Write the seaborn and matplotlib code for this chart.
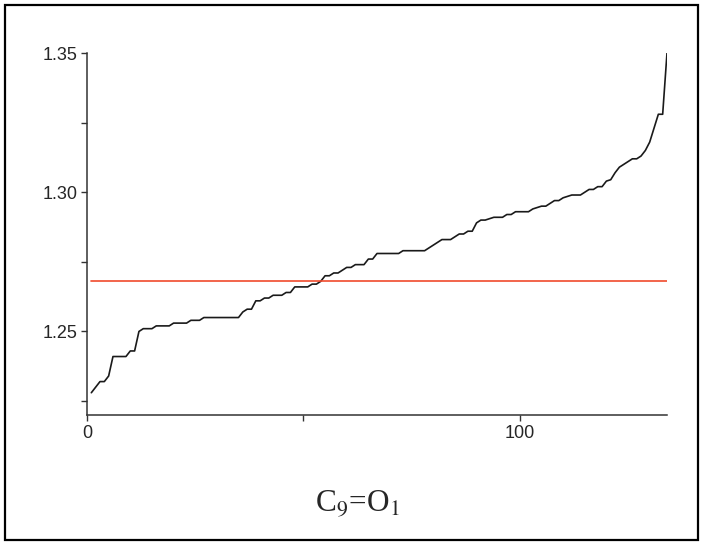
import numpy as np
import pandas as pd
import matplotlib
matplotlib.use('Agg')
import matplotlib.pyplot as plt
import seaborn as sns
from matplotlib.patches import Rectangle
from matplotlib.ticker import MultipleLocator

# sorted values, index 1..134
values = [1.228, 1.230, 1.232, 1.232, 1.234, 1.241, 1.241, 1.241, 1.241, 1.243,
          1.243, 1.250, 1.251, 1.251, 1.251, 1.252, 1.252, 1.252, 1.252, 1.253,
          1.253, 1.253, 1.253, 1.254, 1.254, 1.254, 1.255, 1.255, 1.255, 1.255,
          1.255, 1.255, 1.255, 1.255, 1.255, 1.257, 1.258, 1.258, 1.261, 1.261,
          1.262, 1.262, 1.263, 1.263, 1.263, 1.264, 1.264, 1.266, 1.266, 1.266,
          1.266, 1.267, 1.267, 1.268, 1.270, 1.270, 1.271, 1.271, 1.272, 1.273,
          1.273, 1.274, 1.274, 1.274, 1.276, 1.276, 1.278, 1.278, 1.278, 1.278,
          1.278, 1.278, 1.279, 1.279, 1.279, 1.279, 1.279, 1.279, 1.280, 1.281,
          1.282, 1.283, 1.283, 1.283, 1.284, 1.285, 1.285, 1.286, 1.286, 1.289,
          1.290, 1.290, 1.2905, 1.291, 1.291, 1.291, 1.292, 1.292, 1.293, 1.293,
          1.293, 1.293, 1.294, 1.2945, 1.295, 1.295, 1.296, 1.297, 1.297, 1.298,
          1.2985, 1.299, 1.299, 1.299, 1.300, 1.301, 1.301, 1.302, 1.302, 1.304,
          1.3045, 1.307, 1.309, 1.310, 1.311, 1.312, 1.312, 1.313, 1.315, 1.318,
          1.323, 1.328, 1.328, 1.350]
index = list(range(1, len(values) + 1))
mean_value = 1.268
title = 'C$_9$=O$_1$'

df = pd.DataFrame({'i': index, 'v': values, 'm': [mean_value] * len(values)})

sns.set_style('ticks')
plt.rcParams['font.family'] = ['Liberation Sans', 'DejaVu Sans']
plt.rcParams['mathtext.fontset'] = 'stix'

fig = plt.figure(figsize=(7.04, 5.42), dpi=100)
ax = fig.add_axes([87 / 704, 1 - 415 / 542, (667 - 87) / 704, (415 - 53) / 542])

sns.lineplot(data=df, x='i', y='v', color='#1a1a1a', lw=1.2, ax=ax)
sns.lineplot(data=df, x='i', y='m', color='#f04a2c', lw=1.2, ax=ax)

ax.set_xlim(0, 134)
ax.set_ylim(1.22, 1.35)
ax.set_xticks([0, 100])
ax.xaxis.set_minor_locator(MultipleLocator(50))
ax.set_yticks([1.25, 1.30, 1.35])
ax.yaxis.set_minor_locator(MultipleLocator(0.025))
ax.set_yticklabels(['1.25', '1.30', '1.35'])
ax.tick_params(which='both', direction='out', length=4, width=1, color='#333333',
               labelsize=13, pad=3)
ax.set_xlabel('')
ax.set_ylabel('')
sns.despine(ax=ax)
for s in ['left', 'bottom']:
    ax.spines[s].set_linewidth(1.1)
    ax.spines[s].set_color('#333333')

fig.text(357 / 704, 1 - 504 / 542, title, fontsize=22.5, ha='center', va='center',
         family='Liberation Serif')

fig.patches.append(Rectangle((5 / 704, 2 / 542), 693 / 704, 535 / 542,
                             transform=fig.transFigure, fill=False,
                             edgecolor='black', lw=1.6))

fig.savefig('out.png', dpi=100)
